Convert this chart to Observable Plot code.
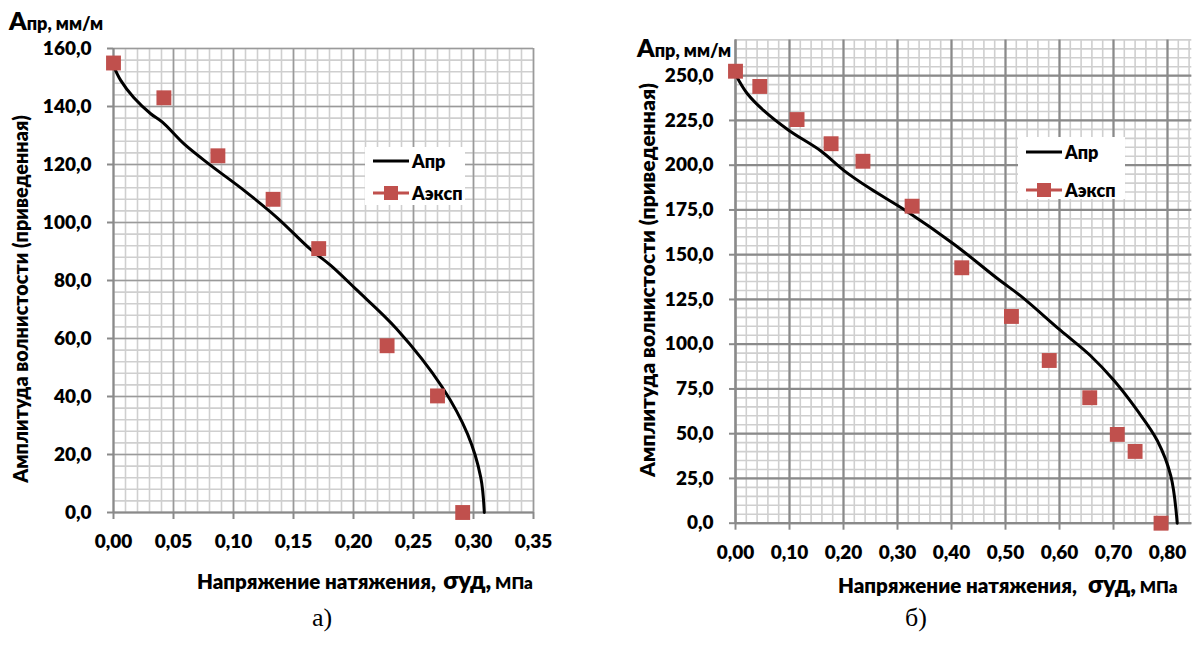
<!DOCTYPE html>
<html>
<head>
<meta charset="utf-8">
<script src="https://cdn.jsdelivr.net/npm/d3@7"></script>
<script src="https://cdn.jsdelivr.net/npm/@observablehq/plot@0.6"></script>
<style>
  html, body { margin: 0; padding: 0; background: #fff; overflow: hidden; }
  #wrap { position: relative; width: 1192px; height: 648px; font-family: Lato, "Open Sans", sans-serif; font-weight: 800; color: #000; }
  .abs { position: absolute; white-space: nowrap; line-height: 1; }
  .panel { position: absolute; top: 0; }
  .legend { position: absolute; background: #fff; }
  .legend .row { position: absolute; left: 0; height: 20px; display: flex; align-items: center; font-size: 18px; }
  .cap { font-family: "Liberation Serif", "DejaVu Serif", serif; font-weight: 400; font-size: 26px; }
</style>
</head>
<body>
<div id="wrap"></div>
<script>
// ---------- Panel a) ----------
const aXTicks = [0, 0.05, 0.10, 0.15, 0.20, 0.25, 0.30, 0.35];
const aYTicks = [0, 20, 40, 60, 80, 100, 120, 140, 160];
const aLineX = [0, 0.006, 0.017, 0.031, 0.041, 0.059, 0.081, 0.109, 0.136, 0.164, 0.181, 0.202, 0.236, 0.274, 0.295, 0.306, 0.309];
const aLineY = [154, 149, 143, 137.5, 134.5, 127, 119.7, 111, 101.8, 90.8, 85.2, 77, 63.3, 43.2, 27.1, 12.2, 0];
const aExpX = [0.000, 0.042, 0.087, 0.133, 0.171, 0.228, 0.270, 0.291];
const aExpY = [155, 143, 123, 108, 91, 57.5, 40.2, 0];

// ---------- Panel б) ----------
const bXTicks = [0, 0.1, 0.2, 0.3, 0.4, 0.5, 0.6, 0.7, 0.8];
const bYTicks = [0, 25, 50, 75, 100, 125, 150, 175, 200, 225, 250];
const bLineX = [0, 0.006, 0.022, 0.052, 0.099, 0.157, 0.201, 0.250, 0.315, 0.404, 0.488, 0.528, 0.602, 0.657, 0.701, 0.744, 0.781, 0.806, 0.818];
const bLineY = [251, 247.4, 239.9, 230.6, 219.4, 208.2, 197, 186.8, 174.7, 156, 136, 127, 107.7, 93.7, 79.7, 63, 46.2, 26.6, 0];
const bExpX = [0.000, 0.045, 0.114, 0.177, 0.236, 0.327, 0.419, 0.511, 0.581, 0.656, 0.707, 0.740, 0.788];
const bExpY = [252.5, 244, 225.5, 212, 202.2, 177.1, 142.7, 115.5, 90.9, 70.1, 49.6, 40.1, 0];

const seriesNames = ["Апр", "Аэксп"];
const yTitle = "Амплитуда волнистости (приведенная)";
const xTitleMain = "Напряжение натяжения,";
const xTitleSym = "σуд,";
const xTitleUnit = "МПа";
const unitA = "А", unitRest = "пр, мм/м";
const captions = ["а)", "б)"];

const RED = "#c0504d";
const comma = (d, n) => d.toFixed(n).replace(".", ",");
const zip = (xs, ys) => xs.map((x, i) => ({x, y: ys[i]}));

function panel({width, height, margins, xDomain, yDomain, xTicks, yTicks, xMinor, yMinor, xDigits, majorColor, majorWidth, line, exp}) {
  const xMin = d3.range(0, Math.round(xDomain[1] / xMinor) + 1).map(i => +(i * xMinor).toFixed(4)).filter(v => v <= xDomain[1] + 1e-9);
  const yMin = d3.range(0, Math.round(yDomain[1] / yMinor) + 1).map(i => i * yMinor).filter(v => v <= yDomain[1]);
  return Plot.plot({
    width, height,
    marginLeft: margins[0], marginRight: margins[1], marginTop: margins[2], marginBottom: margins[3],
    style: {fontFamily: "Lato, 'Open Sans', sans-serif", fontSize: "19px", fontWeight: 800, color: "#000", background: "transparent", overflow: "visible"},
    x: {domain: xDomain},
    y: {domain: yDomain},
    marks: [
      Plot.ruleX(xMin, {stroke: "#cfcfcf", strokeWidth: 1.6}),
      Plot.ruleY(yMin, {stroke: "#cfcfcf", strokeWidth: 1.6}),
      Plot.ruleX(xTicks, {stroke: majorColor, strokeWidth: majorWidth}),
      Plot.ruleY(yTicks, {stroke: majorColor, strokeWidth: majorWidth}),
      Plot.ruleY([0], {stroke: "#8a8a8a", strokeWidth: 2}),
      Plot.ruleX([0], {stroke: "#8a8a8a", strokeWidth: 2}),
      Plot.axisX({ticks: xTicks, tickFormat: d => comma(d, xDigits), tickSize: 7, tickPadding: 15, stroke: "#8a8a8a", strokeWidth: 2, label: null, fill: "#000"}),
      Plot.axisY({ticks: yTicks, tickFormat: d => comma(d, 1), tickSize: 6, tickPadding: 16, stroke: "#8a8a8a", strokeWidth: 2, label: null, fill: "#000"}),
      Plot.line(line, {x: "x", y: "y", stroke: "#000", strokeWidth: 3, curve: "catmull-rom"}),
      Plot.dot(exp, {x: "x", y: "y", symbol: "square", r: 8.4, fill: RED})
    ]
  });
}

const wrap = document.getElementById("wrap");

const pa = panel({
  width: 560, height: 560, margins: [113, 27, 48, 48],
  xDomain: [0, 0.35], yDomain: [0, 160],
  xTicks: aXTicks, yTicks: aYTicks, xMinor: 0.01, yMinor: 4, xDigits: 2,
  majorColor: "#9a9a9a", majorWidth: 1.6,
  line: zip(aLineX, aLineY), exp: zip(aExpX, aExpY)
});
pa.classList.add("panel"); pa.style.left = "0px";
wrap.appendChild(pa);

const pb = panel({
  width: 592, height: 570, margins: [135, 0.7, 39.4, 47.3],
  xDomain: [0, 0.845], yDomain: [0, 270],
  xTicks: bXTicks, yTicks: bYTicks, xMinor: 0.02, yMinor: 5, xDigits: 2,
  majorColor: "#8a8a8a", majorWidth: 2.2,
  line: zip(bLineX, bLineY), exp: zip(bExpX, bExpY)
});
pb.classList.add("panel"); pb.style.left = "600px";
wrap.appendChild(pb);

function addText(html, css, cls = "abs") {
  const d = document.createElement("div");
  d.className = cls;
  d.innerHTML = html;
  Object.assign(d.style, css);
  wrap.appendChild(d);
  return d;
}

// unit labels
addText(`<span style="font-size:25px">${unitA}</span><span style="font-size:18px">${unitRest}</span>`, {left: "9px", top: "8px"});
addText(`<span style="font-size:25px">${unitA}</span><span style="font-size:18px">${unitRest}</span>`, {left: "637px", top: "35px"});

// y titles (rotated)
function yTitleAt(cx, cy, fs) {
  addText(yTitle, {fontSize: fs + "px", left: cx + "px", top: cy + "px", transform: "translate(-50%,-50%) rotate(-90deg)"});
}
yTitleAt(21, 299, 19.8);
yTitleAt(648, 280, 21.2);

// x titles
addText(`<span style="font-size:20.5px">${xTitleMain}</span>&nbsp;&nbsp;<span style="font-size:24px">${xTitleSym}</span> <span style="font-size:17px">${xTitleUnit}</span>`, {left: "197px", top: "568px"});
addText(`<span style="font-size:20.5px">${xTitleMain}</span>&nbsp;&nbsp;&nbsp;<span style="font-size:24px">${xTitleSym}</span> <span style="font-size:17px">${xTitleUnit}</span>`, {left: "838px", top: "572px"});

// captions
addText(captions[0], {left: "312px", top: "605px"}, "abs cap");
addText(captions[1], {left: "905px", top: "605px"}, "abs cap");

// legends
function legend(left, top, w, h, rowY1, rowY2) {
  const lg = document.createElement("div");
  lg.className = "legend";
  Object.assign(lg.style, {left: left + "px", top: top + "px", width: w + "px", height: h + "px"});
  const sw1 = `<svg width="36" height="20" style="margin-left:8px;margin-right:3px"><line x1="0" x2="36" y1="10" y2="10" stroke="#000" stroke-width="3"/></svg>`;
  const sw2 = `<svg width="36" height="20" style="margin-left:8px;margin-right:3px"><line x1="0" x2="36" y1="10" y2="10" stroke="${RED}" stroke-width="3"/><rect x="11" y="3" width="14" height="14" fill="${RED}"/></svg>`;
  lg.innerHTML = `<div class="row" style="top:${rowY1 - 10}px">${sw1}<span>${seriesNames[0]}</span></div>` +
                 `<div class="row" style="top:${rowY2 - 10}px">${sw2}<span>${seriesNames[1]}</span></div>`;
  wrap.appendChild(lg);
}
legend(365, 147, 100, 58, 14, 46);
legend(1018, 137, 107, 62, 15, 53);
</script>
</body>
</html>
